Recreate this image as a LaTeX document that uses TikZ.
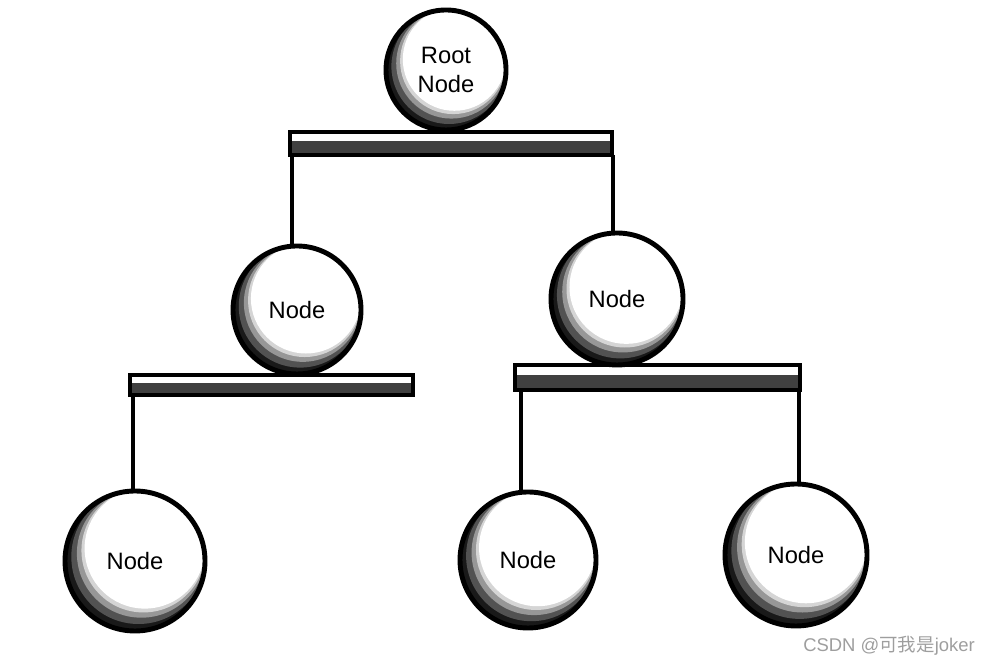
\documentclass[tikz,border=0pt]{standalone}
\usepackage{fontspec}
\setmainfont{Liberation Sans}
\newfontfamily\cjk{Noto Sans CJK SC}
\usetikzlibrary{calc}

\tikzset{
  ball/.style={circle, draw=black, line width=2.8pt, fill=white, minimum size=2*#1 cm,
    inner sep=0pt, align=center, font=\fontsize{13.5}{16.5}\selectfont,
    path picture={
      \fill[black!90] (path picture bounding box.center) circle (#1);
      \fill[white, opacity=0.25] ([shift={(0.05*#1,0.06*#1)}]path picture bounding box.center) circle (0.96*#1);
      \fill[white, opacity=0.4] ([shift={(0.09*#1,0.11*#1)}]path picture bounding box.center) circle (0.92*#1);
      \fill[white, opacity=0.6] ([shift={(0.12*#1,0.15*#1)}]path picture bounding box.center) circle (0.885*#1);
      \fill[white] ([shift={(0.14*#1,0.18*#1)}]path picture bounding box.center) circle (0.86*#1);
    }},
  bar/.style={rectangle, draw=black, line width=2.2pt, fill=white, inner sep=0pt,
    path picture={
      \fill[black!75] (path picture bounding box.south west) rectangle
        ($(path picture bounding box.north east)!0.4!(path picture bounding box.south east)$);
    }},
  stem/.style={line width=1.9pt, black},
}

\begin{document}
\begin{tikzpicture}
    \useasboundingbox (0,0) rectangle (19.84,13.32);

    \node[bar, minimum width=6.44cm, minimum height=0.46cm] (barT) at (9.02, 10.45) {};
    \node[bar, minimum width=5.66cm, minimum height=0.40cm] (barL) at (5.43, 5.62) {};
    \node[bar, minimum width=5.70cm, minimum height=0.50cm] (barR) at (13.15, 5.77) {};

    \node[ball=1.20] (root) at (8.92, 11.92) {Root\\Node};
    \node[ball=1.28] (midL) at (5.94, 7.12) {Node};
    \node[ball=1.32] (midR) at (12.34, 7.34) {Node};
    \node[ball=1.40] (botL) at (2.70, 2.10) {Node};
    \node[ball=1.36] (botM) at (10.56, 2.12) {Node};
    \node[ball=1.42] (botR) at (15.92, 2.22) {Node};

    \coordinate (tL) at (5.84, 10.22);
    \coordinate (tR) at (12.26, 10.22);
    \coordinate (lL) at (2.66, 5.42);
    \coordinate (rL) at (10.42, 5.52);
    \coordinate (rR) at (15.98, 5.52);

    \draw[stem] (tL) -- (tL |- midL.north); % top bar - left node
    \draw[stem] (tR) -- (tR |- midR.north); % top bar - right node
    \draw[stem] (lL) -- (lL |- botL.north); % left bar - leaf
    \draw[stem] (rL) -- (rL |- botM.north); % right bar - middle leaf
    \draw[stem] (rR) -- (rR |- botR.north); % right bar - right leaf

    \node[text=black!38, font=\fontsize{10.5}{12}\selectfont] (mark) at (17.78, 0.40) {CSDN @{\cjk 可我是}joker};
\end{tikzpicture}
\end{document}
